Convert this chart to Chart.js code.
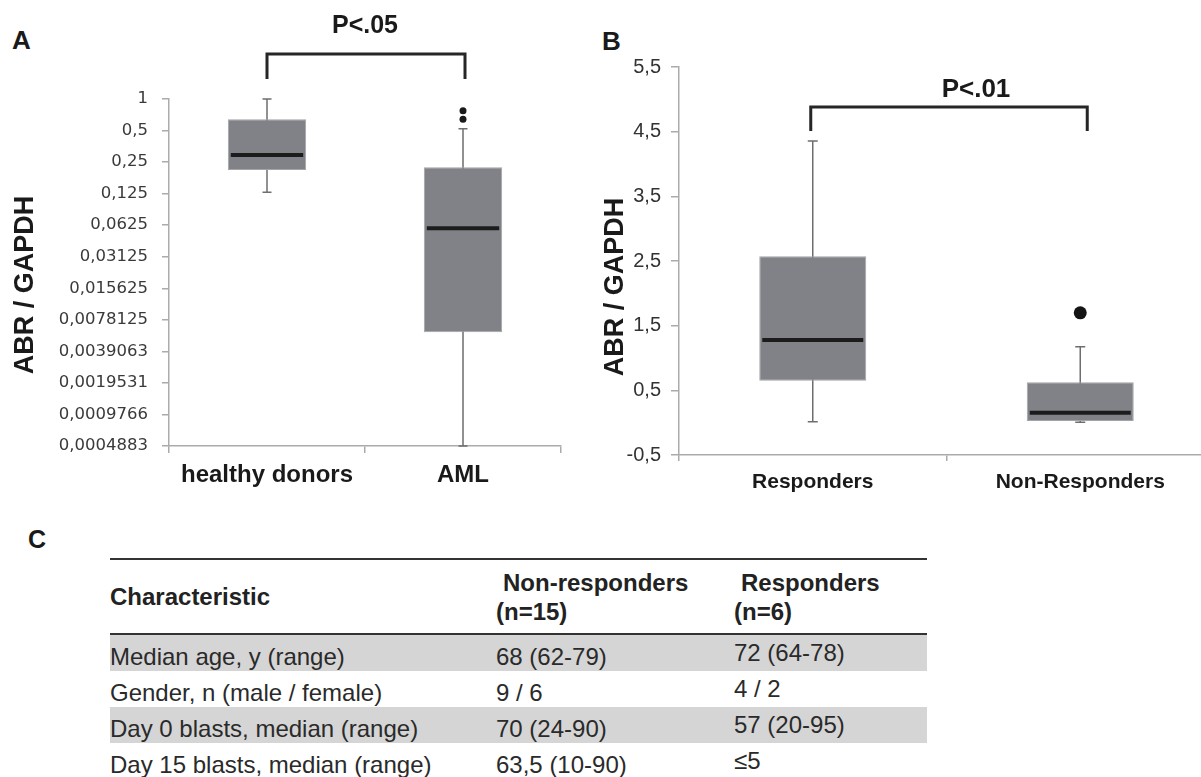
<!DOCTYPE html>
<html>
<head>
<meta charset="utf-8">
<script src="https://cdn.jsdelivr.net/npm/chart.js@4.4.1/dist/chart.umd.min.js"></script>
<style>
  html, body { margin: 0; padding: 0; overflow: hidden; background: #fff; }
  body { width: 1201px; height: 777px; position: relative; font-family: 'Liberation Sans', Arial, sans-serif; color: #222; }
  .wrap { position: absolute; top: 0; height: 500px; }
  #wrapA { left: 0; width: 590px; }
  #wrapB { left: 590px; width: 640px; }
  .letter { position: absolute; font-weight: bold; line-height: 1; color: #1a1a1a; }
  #tbl { position: absolute; left: 110px; top: 558px; width: 817px; height: 219px; font-size: 24px; color: #2a2a2a; }
  #tbl .rule { position: absolute; left: 0; width: 817px; height: 2px; background: #333; }
  #tbl .hd { position: absolute; font-weight: bold; line-height: 29px; white-space: nowrap; color: #222; }
  #tbl .ind { text-indent: 7px; }
  #tbl .row { position: absolute; left: 0; width: 817px; height: 36px; }
  #tbl .row.shade { background: #d5d5d5; }
  #tbl .cell { position: absolute; line-height: 36px; white-space: nowrap; }
</style>
</head>
<body>
<div class="letter" style="left:12px;top:27px;font-size:26px">A</div>
<div class="letter" style="left:602px;top:28px;font-size:26px">B</div>
<div class="letter" style="left:28px;top:527px;font-size:25px">C</div>
<div class="wrap" id="wrapA"><canvas id="chartA"></canvas></div>
<div class="wrap" id="wrapB"><canvas id="chartB"></canvas></div>
<div id="tbl"></div>
<script>
// Panel A - log2 scale, healthy donors vs AML
const groupsA = ['healthy donors', 'AML'];
const minA = [0.129, 0.00048828125];
const q1A = [0.210, 0.00593];
const medA = [0.292, 0.0584];
const q3A = [0.640, 0.223];
const maxA = [1, 0.521];
const outliersA = [[], [0.773, 0.640]];
const ticksA = [1, 0.5, 0.25, 0.125, 0.0625, 0.03125, 0.015625, 0.0078125,
  0.00390625, 0.001953125, 0.0009765625, 0.00048828125];
const tickLabelsA = ['1', '0,5', '0,25', '0,125', '0,0625', '0,03125', '0,015625',
  '0,0078125', '0,0039063', '0,0019531', '0,0009766', '0,0004883'];

// Panel B - responders vs non-responders
const groupsB = ['Responders', 'Non-Responders'];
const minB = [0.015, 0.006];
const q1B = [0.648, 0.026];
const medB = [1.277, 0.154];
const q3B = [2.575, 0.624];
const maxB = [4.357, 1.174];
const outliersB = [[], [1.699]];
const ticksB = [-0.5, 0.5, 1.5, 2.5, 3.5, 4.5, 5.5];
const tickLabelsB = ['-0,5', '0,5', '1,5', '2,5', '3,5', '4,5', '5,5'];

// Panel C - table
const tableColumns = ['Characteristic', 'Non-responders', 'Responders'];
const groupSizes = ['(n=15)', '(n=6)'];
const rowLabels = ['Median age, y (range)', 'Gender, n (male / female)',
  'Day 0 blasts, median (range)', 'Day 15 blasts, median (range)'];
const nonResponderValues = ['68 (62-79)', '9 / 6', '70 (24-90)', '63,5 (10-90)'];
const responderValues = ['72 (64-78)', '4 / 2', '57 (20-95)', '≤5'];

const BOX_FILL = '#818287';
const BOX_EDGE = '#a3a4a6';
const AXIS = '#ababab';

// whiskers behind the boxes, medians on top
const boxWhisker = {
  id: 'boxWhisker',
  beforeDatasetsDraw(chart, args, o) {
    const { ctx, scales: { x, y } } = chart;
    ctx.save();
    ctx.strokeStyle = '#6e6e6e';
    ctx.lineWidth = 1.5;
    o.lo.forEach((lo, i) => {
      const cx = x.getPixelForValue(i);
      const yLo = y.getPixelForValue(lo);
      const yHi = y.getPixelForValue(o.hi[i]);
      ctx.beginPath();
      ctx.moveTo(cx, yLo);
      ctx.lineTo(cx, yHi);
      ctx.moveTo(cx - o.cap, yLo);
      ctx.lineTo(cx + o.cap, yLo);
      ctx.moveTo(cx - o.cap, yHi);
      ctx.lineTo(cx + o.cap, yHi);
      ctx.stroke();
    });
    ctx.restore();
  },
  afterDatasetsDraw(chart, args, o) {
    const { ctx, scales: { y } } = chart;
    const bars = chart.getDatasetMeta(0).data;
    ctx.save();
    ctx.strokeStyle = '#1c1c1c';
    ctx.lineWidth = 4;
    bars.forEach((bar, i) => {
      const ym = y.getPixelForValue(o.med[i]);
      const half = bar.width / 2 - 3;
      ctx.beginPath();
      ctx.moveTo(bar.x - half, ym);
      ctx.lineTo(bar.x + half, ym);
      ctx.stroke();
    });
    ctx.restore();
  }
};

// significance bracket, P label and rotated y title
const annotations = {
  id: 'annotations',
  afterDraw(chart, args, o) {
    const { ctx, chartArea, scales: { x } } = chart;
    const x1 = x.getPixelForValue(0) + o.dx[0];
    const x2 = x.getPixelForValue(1) + o.dx[1];
    const yBar = chartArea.top + o.barY;
    const yEnd = chartArea.top + o.armY;
    ctx.save();
    ctx.strokeStyle = '#262626';
    ctx.lineWidth = 3;
    ctx.beginPath();
    ctx.moveTo(x1, yEnd);
    ctx.lineTo(x1, yBar);
    ctx.lineTo(x2, yBar);
    ctx.lineTo(x2, yEnd);
    ctx.stroke();

    ctx.fillStyle = '#1a1a1a';
    ctx.font = 'bold ' + o.pSize + 'px "Liberation Sans", Arial, sans-serif';
    ctx.textAlign = 'center';
    ctx.textBaseline = 'alphabetic';
    ctx.fillText(o.pText, (x1 + x2) / 2 + o.pDx, chartArea.top + o.pY);

    ctx.translate(o.titleX, o.titleY);
    ctx.rotate(-Math.PI / 2);
    ctx.font = 'bold 27px "Liberation Sans", Arial, sans-serif';
    ctx.fillText('ABR / GAPDH', 0, 0);
    ctx.restore();
  }
};

function outlierPoints(groups, outliers) {
  const pts = [];
  outliers.forEach((list, i) => list.forEach(v => pts.push({ x: groups[i], y: v })));
  return pts;
}

// Chart A
new Chart(document.getElementById('chartA'), {
  type: 'bar',
  data: {
    labels: groupsA,
    datasets: [{
      data: groupsA.map((g, i) => [q1A[i], q3A[i]]),
      backgroundColor: BOX_FILL,
      borderColor: BOX_EDGE,
      borderWidth: 1,
      borderSkipped: false,
      barPercentage: 1,
      categoryPercentage: 0.4,
      order: 1
    }, {
      type: 'line',
      data: outlierPoints(groupsA, outliersA),
      showLine: false,
      pointRadius: 3.5,
      pointBackgroundColor: '#1a1a1a',
      pointBorderWidth: 0,
      order: 0
    }]
  },
  options: {
    responsive: true,
    maintainAspectRatio: false,
    animation: false,
    devicePixelRatio: 1,
    layout: { padding: { top: 99, right: 29, left: 0, bottom: 0 } },
    plugins: {
      legend: { display: false },
      tooltip: { enabled: false },
      boxWhisker: { lo: minA, hi: maxA, med: medA, cap: 4.5 },
      annotations: { dx: [0, 2], barY: -45, armY: -20, pText: 'P<.05', pSize: 25, pDx: -1, pY: -66, titleX: 33, titleY: 285 }
    },
    scales: {
      x: {
        offset: true,
        grid: { display: true, offset: true, drawOnChartArea: false, drawTicks: true, tickLength: 7, color: AXIS, lineWidth: 1.5 },
        border: { display: true, color: AXIS, width: 1.5 },
        ticks: { color: '#1a1a1a', font: { family: '"Liberation Sans", Arial, sans-serif', size: 24, weight: 'bold' }, padding: 8 },
        afterFit(s) { s.height = 54; }
      },
      y: {
        type: 'logarithmic',
        min: ticksA[ticksA.length - 1],
        max: ticksA[0],
        afterBuildTicks(s) { s.ticks = ticksA.map(v => ({ value: v })); },
        grid: { display: true, drawOnChartArea: false, drawTicks: true, tickLength: 7, color: AXIS, lineWidth: 1.5 },
        border: { display: true, color: AXIS, width: 1.5 },
        ticks: {
          autoSkip: false,
          color: '#3a3a3a',
          padding: 14,
          font: { family: '"DejaVu Sans", sans-serif', size: 16.5 },
          callback: (v, i) => tickLabelsA[i]
        },
        afterFit(s) { s.width = 169; }
      }
    }
  },
  plugins: [boxWhisker, annotations]
});

// Chart B
new Chart(document.getElementById('chartB'), {
  type: 'bar',
  data: {
    labels: groupsB,
    datasets: [{
      data: groupsB.map((g, i) => [q1B[i], q3B[i]]),
      backgroundColor: BOX_FILL,
      borderColor: BOX_EDGE,
      borderWidth: 1,
      borderSkipped: false,
      barPercentage: 1,
      categoryPercentage: 0.4,
      order: 1
    }, {
      type: 'line',
      data: outlierPoints(groupsB, outliersB),
      showLine: false,
      pointRadius: 6.5,
      pointBackgroundColor: '#141414',
      pointBorderWidth: 0,
      order: 0
    }]
  },
  options: {
    responsive: true,
    maintainAspectRatio: false,
    animation: false,
    devicePixelRatio: 1,
    layout: { padding: { top: 67, right: 16, left: 0, bottom: 0 } },
    plugins: {
      legend: { display: false },
      tooltip: { enabled: false },
      boxWhisker: { lo: minB, hi: maxB, med: medB, cap: 5 },
      annotations: { dx: [-2, 7], barY: 40, armY: 64, pText: 'P<.01', pSize: 26, pDx: 27, pY: 30, titleX: 33, titleY: 287 }
    },
    scales: {
      x: {
        offset: true,
        grid: { display: true, offset: true, drawOnChartArea: false, drawTicks: true, tickLength: 6, color: AXIS, lineWidth: 1.5 },
        border: { display: true, color: AXIS, width: 1.5 },
        ticks: { color: '#1a1a1a', font: { family: '"Liberation Sans", Arial, sans-serif', size: 21, weight: 'bold' }, padding: 9 },
        afterFit(s) { s.height = 45; }
      },
      y: {
        min: ticksB[0],
        max: ticksB[ticksB.length - 1],
        afterBuildTicks(s) { s.ticks = ticksB.map(v => ({ value: v })); },
        grid: { display: true, drawOnChartArea: false, drawTicks: true, tickLength: 8, color: AXIS, lineWidth: 1.5 },
        border: { display: true, color: AXIS, width: 1.5 },
        ticks: {
          autoSkip: false,
          color: '#333',
          padding: 10,
          font: { family: '"Liberation Sans", Arial, sans-serif', size: 20 },
          callback: (v, i) => tickLabelsB[i]
        },
        afterFit(s) { s.width = 89; }
      }
    }
  },
  plugins: [boxWhisker, annotations]
});

// Table C
const tbl = document.getElementById('tbl');
let html = '<div class="rule" style="top:0"></div>';
html += `<div class="hd" style="left:0;top:24px">${tableColumns[0]}</div>`;
html += `<div class="hd ind" style="left:386px;top:10px">${tableColumns[1]}<br>${groupSizes[0]}</div>`;
html += `<div class="hd ind" style="left:624px;top:10px">${tableColumns[2]}<br>${groupSizes[1]}</div>`;
html += '<div class="rule" style="top:75px"></div>';
rowLabels.forEach((label, i) => {
  html += `<div class="row${i % 2 === 0 ? ' shade' : ''}" style="top:${77 + 36 * i}px">
    <span class="cell" style="left:0;top:4px">${label}</span>
    <span class="cell" style="left:386px;top:4px">${nonResponderValues[i]}</span>
    <span class="cell" style="left:624px;top:0">${responderValues[i]}</span>
  </div>`;
});
tbl.innerHTML = html;
</script>
</body>
</html>
